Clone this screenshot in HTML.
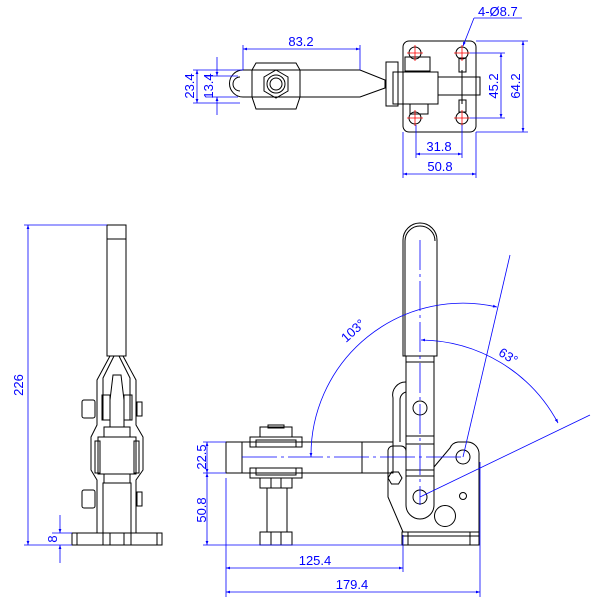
<!DOCTYPE html>
<html><head><style>html,body{margin:0;padding:0;background:#fff}svg{display:block}</style></head>
<body>
<svg width="600" height="600" viewBox="0 0 600 600" xmlns="http://www.w3.org/2000/svg" font-family="Liberation Sans, sans-serif">
<defs>
<marker id="a" viewBox="0 0 10 10" refX="10" refY="5" markerWidth="7" markerHeight="5" orient="auto-start-reverse"><path d="M0,1.5 L10,5 L0,8.5z" fill="#00f"/></marker>
</defs>
<g fill="none" stroke="#000" stroke-width="1">
<!-- TOP VIEW -->
<path d="M243,70 L360,70 L385,80 L385,88 L360,97 L243,97"/>
<path d="M243,70 A13.5,13.5 0 0 0 243,97"/>
<path d="M240,77 A7,7 0 0 0 240,91"/>
<path d="M256,63 L296,63 L300,70 L300,97 L296,109 L256,109 L252,97 L252,70Z"/>
<polygon points="276,70 288,77 288,91 276,98 264,91 264,77"/>
<circle cx="276" cy="84" r="9"/><circle cx="276" cy="84" r="6"/>
<rect x="403" y="41" width="73" height="91" rx="6"/>
<rect x="386" y="62" width="12" height="44"/>
<rect x="393" y="72" width="45" height="32"/>
<rect x="405" y="57" width="25" height="14"/>
<rect x="410" y="104" width="18" height="10"/>
<rect x="438" y="77" width="42" height="18"/>
<rect x="459" y="58" width="7" height="14"/><rect x="459" y="100" width="7" height="12"/>
<line x1="462" y1="70" x2="462" y2="104"/>
<circle cx="415" cy="53" r="6"/><circle cx="462" cy="53" r="6"/><circle cx="415" cy="118" r="6"/><circle cx="462" cy="118" r="6"/>
</g>
<g stroke="#f00" stroke-width="0.8">
<path d="M407,53h16M415,45v16M454,53h16M462,45v16M407,118h16M415,110v16M454,118h16M462,110v16"/>
</g>
<g stroke="#00f" stroke-width="0.8" fill="none">
<path d="M243,45V70M360,45V70"/>
<line x1="243" y1="49" x2="360" y2="49" marker-start="url(#a)" marker-end="url(#a)"/>
<path d="M193,70H243M193,103H240M206,76H238M206,97H238"/>
<line x1="217" y1="57" x2="217" y2="76" marker-end="url(#a)"/>
<line x1="217" y1="115" x2="217" y2="97" marker-end="url(#a)"/>
<line x1="197" y1="70" x2="197" y2="103" marker-start="url(#a)" marker-end="url(#a)"/>
<path d="M476,41H528M470,53H505M470,118H505M476,132H528"/>
<line x1="523" y1="41" x2="523" y2="132" marker-start="url(#a)" marker-end="url(#a)"/>
<line x1="501" y1="53" x2="501" y2="118" marker-start="url(#a)" marker-end="url(#a)"/>
<path d="M416,125V158M462,125V158M403,132V178M476,132V178"/>
<line x1="416" y1="154" x2="462" y2="154" marker-start="url(#a)" marker-end="url(#a)"/>
<line x1="403" y1="174" x2="476" y2="174" marker-start="url(#a)" marker-end="url(#a)"/>
<path d="M474,18H522"/>
<line x1="474" y1="18" x2="463" y2="46" marker-end="url(#a)"/>
</g>
<g fill="#00f" font-size="13">
<text x="301" y="46" text-anchor="middle">83.2</text>
<text x="439" y="151" text-anchor="middle">31.8</text>
<text x="440" y="171" text-anchor="middle">50.8</text>
<text x="478" y="16">4-Ø8.7</text>
<text transform="translate(194,86) rotate(-90)" text-anchor="middle">23.4</text>
<text transform="translate(213,86) rotate(-90)" text-anchor="middle">13.4</text>
<text transform="translate(498,86) rotate(-90)" text-anchor="middle">45.2</text>
<text transform="translate(520,86) rotate(-90)" text-anchor="middle">64.2</text>
</g>

<!-- SIDE VIEW -->
<g fill="none" stroke="#000" stroke-width="1">
<rect x="107" y="225" width="19" height="131"/>
<line x1="107" y1="239" x2="126" y2="239"/>
<path d="M110,356 L97,380 L97,425 L91,437 L91,470 L97,480 L97,533"/>
<path d="M123,356 L136,380 L136,425 L143,437 L143,470 L136,480 L136,533"/>
<path d="M114,356 L103,378 L103,420 M119,356 L130,378 L130,420"/>
<path d="M113,375 L110,400 L110,427 L124,427 L124,400 L121,375Z"/>
<rect x="102" y="395" width="8" height="25"/><rect x="124" y="395" width="8" height="25"/>
<rect x="104" y="427" width="26" height="10"/>
<rect x="98" y="437" width="38" height="37"/>
<rect x="95" y="441" width="5" height="32"/><rect x="134" y="441" width="5" height="32"/>
<rect x="104" y="474" width="26" height="9"/>
<rect x="103" y="483" width="28" height="50"/>
<rect x="82" y="400" width="13" height="18" rx="2"/><rect x="82" y="490" width="13" height="18" rx="2"/>
<rect x="137" y="402" width="5" height="14"/><rect x="137" y="492" width="5" height="14"/>
<rect x="72" y="533" width="90" height="12"/>
<path d="M77,533V545M157,533V545M103,533V545M131,533V545M110,533V545M124,533V545"/>
</g>
<g stroke="#00f" stroke-width="0.8" fill="none">
<path d="M24,225H107M24,545H72M52,533H72"/>
<line x1="28" y1="225" x2="28" y2="545" marker-start="url(#a)" marker-end="url(#a)"/>
<line x1="60" y1="515" x2="60" y2="533" marker-end="url(#a)"/>
<line x1="60" y1="563" x2="60" y2="545" marker-end="url(#a)"/>
</g>
<g fill="#00f" font-size="13">
<text transform="translate(23,385) rotate(-90)" text-anchor="middle">226</text>
<text transform="translate(57,539) rotate(-90)" text-anchor="middle">8</text>
</g>

<!-- FRONT VIEW -->
<g fill="none" stroke="#000" stroke-width="1">
<path d="M403,356 L403,240 A17,17 0 0 1 437,240 L437,356Z"/>
<path d="M405,356 L405,241 A15,15 0 0 1 435,241"/>
<path d="M406,356 L406,505 A14,14 0 0 0 434,505 L434,356"/>
<path d="M406,362H434M406,436H434M406,444H434M406,470H434M406,476H434"/>
<path d="M393,442 L393,398 A13,13 0 0 1 406,382 M400,442 L400,400 A8,8 0 0 1 406,392"/>
<rect x="226" y="442" width="167" height="31"/>
<path d="M242,442V473M362,442V473"/>
<rect x="250" y="437" width="52" height="10"/><rect x="256" y="440" width="40" height="7"/>
<rect x="260" y="427" width="32" height="10"/><rect x="268" y="425" width="16" height="3"/>
<rect x="250" y="468" width="52" height="10"/><rect x="256" y="468" width="40" height="7"/>
<rect x="260" y="478" width="32" height="10"/>
<rect x="267" y="488" width="20" height="44"/>
<rect x="260" y="532" width="32" height="13"/>
<path d="M271,478V488M281,478V488M271,532V545M281,532V545"/>
<path d="M388,450 A5,5 0 0 1 393,446 L401,446 A5,5 0 0 1 406,451 M388,450 L388,497 L403,532 M434,467 L450,448 A10,10 0 0 1 458,442 L468,442 A12,12 0 0 1 479,455 L479,532"/>
<rect x="402" y="532" width="77" height="13"/>
<path d="M408,532V545M470,532V545M402,536H479"/>
<circle cx="420" cy="408" r="7"/><circle cx="463" cy="457" r="7"/>
<circle cx="420" cy="497" r="7"/><circle cx="463" cy="496" r="3.5"/>
<circle cx="445" cy="516" r="10.5"/>
<polygon points="402,478 398.5,484 391.5,484 388,478 391.5,472 398.5,472"/>
</g>
<g stroke="#00f" stroke-width="0.8" fill="none">
<line x1="420" y1="240" x2="420" y2="505" stroke-dasharray="30,4,3,4"/>
<line x1="242" y1="457" x2="463" y2="457" stroke-dasharray="35,4,3,4"/>
<line x1="420" y1="497" x2="590" y2="415"/>
<line x1="463" y1="457" x2="510" y2="255"/>
<path d="M311,457 A152,152 0 0 1 497,307" marker-start="url(#a)" marker-end="url(#a)"/>
<path d="M421,340 A157,157 0 0 1 558,423" marker-start="url(#a)" marker-end="url(#a)"/>
<path d="M203,442H226M203,473H226M203,545H402M480,462V597M403,535V572M226,478V597"/>
<line x1="207" y1="442" x2="207" y2="473" marker-start="url(#a)" marker-end="url(#a)"/>
<line x1="207" y1="473" x2="207" y2="545" marker-start="url(#a)" marker-end="url(#a)"/>
<line x1="226" y1="568" x2="403" y2="568" marker-start="url(#a)" marker-end="url(#a)"/>
<line x1="226" y1="592" x2="480" y2="592" marker-start="url(#a)" marker-end="url(#a)"/>
</g>
<g fill="#00f" font-size="13">
<text transform="translate(206,457) rotate(-90)" text-anchor="middle">22.5</text>
<text transform="translate(206,510) rotate(-90)" text-anchor="middle">50.8</text>
<text x="315" y="565" text-anchor="middle">125.4</text>
<text x="352" y="589" text-anchor="middle">179.4</text>
<text transform="translate(356,334) rotate(-42)" text-anchor="middle">103°</text>
<text transform="translate(506,360) rotate(32)" text-anchor="middle">63°</text>
</g>
</svg>
</body></html>
